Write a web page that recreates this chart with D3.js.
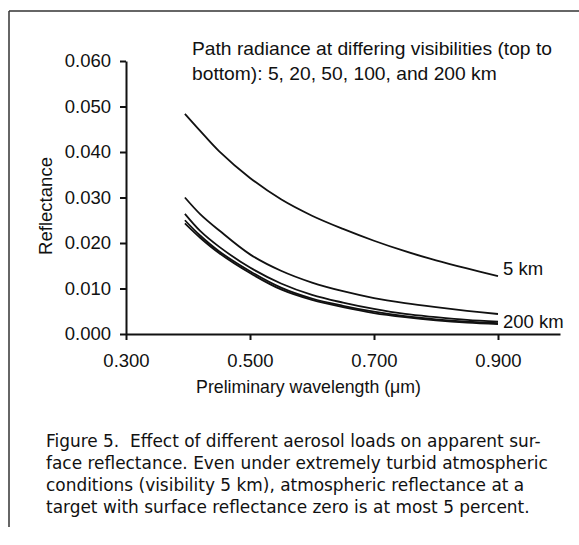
<!DOCTYPE html>
<html>
<head>
<meta charset="utf-8">
<script src="https://cdn.jsdelivr.net/npm/d3@7"></script>
<style>
  html, body { margin: 0; padding: 0; background: #fff; }
  svg { display: block; }
</style>
</head>
<body>
<svg id="chart" width="579" height="545"></svg>
<script>
// ---- data ----
const wavelengths = [0.395, 0.42, 0.45, 0.50, 0.55, 0.60, 0.65, 0.70, 0.75, 0.80, 0.85, 0.90];
const vis5km   = [0.0484, 0.0446, 0.0402, 0.0343, 0.0296, 0.0260, 0.0231, 0.0205, 0.0182, 0.0162, 0.0144, 0.0127];
const vis20km  = [0.0300, 0.0263, 0.0228, 0.0175, 0.0139, 0.0113, 0.0094, 0.0079, 0.0068, 0.0059, 0.0051, 0.0044];
const vis50km  = [0.0264, 0.0226, 0.0192, 0.0146, 0.0111, 0.0086, 0.0069, 0.0055, 0.0044, 0.0037, 0.0031, 0.0027];
const vis100km = [0.0250, 0.0216, 0.0182, 0.0138, 0.0102, 0.0078, 0.0062, 0.0049, 0.0039, 0.0032, 0.0027, 0.0024];
const vis200km = [0.0243, 0.0211, 0.0178, 0.0134, 0.0098, 0.0075, 0.0059, 0.0046, 0.0037, 0.0030, 0.0025, 0.0022];
const seriesNames = ["5 km", "20 km", "50 km", "100 km", "200 km"];
const seriesValues = [vis5km, vis20km, vis50km, vis100km, vis200km];
const xTicks = [0.3, 0.5, 0.7, 0.9];
const yTicks = [0, 0.01, 0.02, 0.03, 0.04, 0.05, 0.06];
const legendLines = ["Path radiance at differing visibilities (top to",
                     "bottom): 5, 20, 50, 100, and 200 km"];
const captionLines = [
  "Figure 5.\u00a0 Effect of different aerosol loads on apparent sur-",
  "face reflectance. Even under extremely turbid atmospheric",
  "conditions (visibility 5 km), atmospheric reflectance at a",
  "target with surface reflectance zero is at most 5 percent."
];
const xTitle = "Preliminary wavelength (\u03bcm)";
const yTitle = "Reflectance";
const endLabels = [{name: "5 km", idx: 0}, {name: "200 km", idx: 4}];

// ---- drawing ----
const SANS = "'Liberation Sans', Arial, Helvetica, sans-serif";
const svg = d3.select("#chart");
const x = d3.scaleLinear().domain([0.3, 1.0]).range([126, 560]);
const y = d3.scaleLinear().domain([0, 0.06]).range([334, 61]);

// shrink/grow a text's font size so that it spans the given width
function fitWidth(sel, width) {
  sel.each(function () {
    const t = d3.select(this);
    const fs = parseFloat(t.style("font-size"));
    const w = this.getComputedTextLength();
    if (w > 0) t.style("font-size", (fs * width / w).toFixed(2) + "px");
  });
}

// frame (top and left rules)
svg.append("line").attr("x1", 9).attr("x2", 579).attr("y1", 11).attr("y2", 11)
  .attr("stroke", "#333").attr("stroke-width", 1.5);
svg.append("line").attr("x1", 9).attr("x2", 9).attr("y1", 11).attr("y2", 527)
  .attr("stroke", "#333").attr("stroke-width", 1.5);

// axes
const xAxis = d3.axisBottom(x).tickValues(xTicks).tickFormat(d3.format(".3f"))
  .tickSizeInner(6).tickSizeOuter(0).tickPadding(14);
const gx = svg.append("g").attr("transform", `translate(0,${y(0)})`).call(xAxis);
const yAxis = d3.axisLeft(y).tickValues(yTicks).tickFormat(d3.format(".3f"))
  .tickSizeInner(6).tickSizeOuter(0).tickPadding(9);
const gy = svg.append("g").attr("transform", `translate(${x(0.3)},0)`).call(yAxis);
[gx, gy].forEach(g => {
  g.select(".domain").attr("stroke", "#111").attr("stroke-width", 2);
  g.selectAll(".tick line").attr("stroke", "#111").attr("stroke-width", 2);
  g.selectAll(".tick text").style("font-size", "18.5px").style("font-family", SANS)
    .attr("fill", "#111");
});
gx.selectAll(".tick text").attr("dy", "0.71em");

// axis titles
svg.append("text").attr("x", 308.5).attr("y", 393).attr("text-anchor", "middle")
  .style("font-family", SANS).style("font-size", "18px").attr("fill", "#111")
  .text(xTitle).call(fitWidth, 225);
svg.append("text").attr("transform", "translate(52,206) rotate(-90)")
  .attr("text-anchor", "middle").style("font-family", SANS).style("font-size", "18.5px")
  .attr("fill", "#111").text(yTitle).call(fitWidth, 98);

// legend text
const leg = svg.selectAll("text.legend").data(legendLines).enter().append("text")
  .attr("class", "legend").attr("x", 192).attr("y", (d, i) => 55 + i * 25)
  .style("font-family", SANS).style("font-size", "18px").attr("fill", "#111").text(d => d);
const legW = leg.nodes()[0].getComputedTextLength();
leg.style("font-size", (18 * 360 / legW).toFixed(2) + "px");

// curves
const line = d3.line().x((d, i) => x(wavelengths[i])).y(d => y(d))
  .curve(d3.curveCatmullRom.alpha(0.5));
svg.selectAll("path.series").data(seriesValues).enter().append("path")
  .attr("class", "series").attr("d", line)
  .attr("fill", "none").attr("stroke", "#111").attr("stroke-width", 1.8)
  .attr("stroke-linejoin", "round");

// end labels
svg.selectAll("text.endlabel").data(endLabels).enter().append("text")
  .attr("class", "endlabel")
  .attr("x", x(wavelengths[wavelengths.length - 1]) + 5)
  .attr("y", d => y(seriesValues[d.idx][wavelengths.length - 1]) + (d.idx === 0 ? -1 : 4.5))
  .style("font-family", SANS).style("font-size", "18.5px").attr("fill", "#111")
  .text(d => d.name);

// caption
const cap = svg.selectAll("text.caption").data(captionLines).enter().append("text")
  .attr("class", "caption").attr("x", 46).attr("y", (d, i) => 447 + i * 22)
  .style("font-family", "'DejaVu Sans', sans-serif").style("font-size", "17px")
  .attr("fill", "#111").text(d => d);
const capW = cap.nodes()[0].getComputedTextLength();
cap.style("font-size", (17 * 495 / capW).toFixed(2) + "px");
</script>
</body>
</html>
